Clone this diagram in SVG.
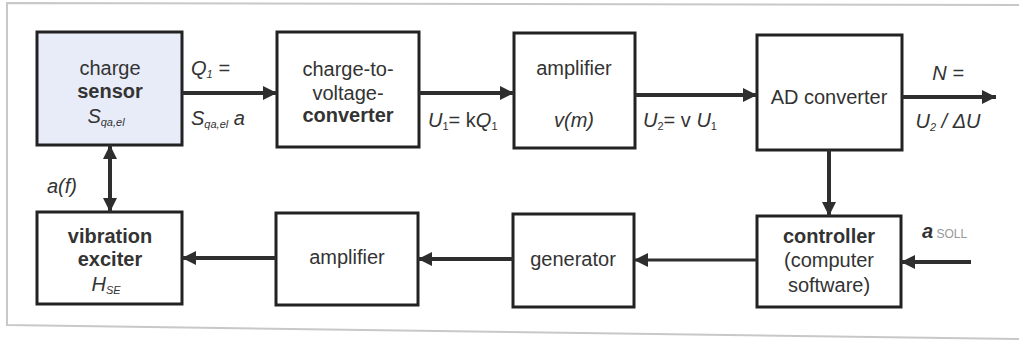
<svg xmlns="http://www.w3.org/2000/svg" width="1019" height="343" viewBox="0 0 1019 343">
<defs>
<marker id="ah" viewBox="0 0 14 14" refX="14" refY="7" markerWidth="14" markerHeight="14" markerUnits="userSpaceOnUse" orient="auto-start-reverse">
<path d="M0,0 L14,7 L0,14 z" fill="#2e2e2e"/>
</marker>
<style>
.box{fill:#fff;stroke:#222;stroke-width:3}
.t{font-family:"Liberation Sans",Arial,sans-serif;font-size:20px;fill:#333;text-anchor:middle}
.b{font-weight:bold}
.i{font-style:italic}
.l{text-anchor:start}
.sub{font-size:11px}
.c{stroke:#2e2e2e;stroke-width:4;fill:none;marker-end:url(#ah)}
.frame{stroke:#c8c8c8;stroke-width:2;fill:none}
</style>
</defs>
<rect width="1019" height="343" fill="#fff"/>
<path class="frame" d="M1019,5 L7,3 L7,325 L1019,339"/>

<g id="charge-sensor">
<rect class="box" x="37" y="32" width="145" height="113" style="fill:#e8ecf8"/>
<text class="t" x="110" y="75">charge</text>
<text class="t b" x="110" y="98">sensor</text>
<text class="t i" x="106" y="123">S<tspan class="sub" dy="3">qa,el</tspan></text>
</g>

<g id="charge-to-voltage">
<rect class="box" x="277" y="32" width="142" height="115"/>
<text class="t" x="348" y="76">charge-to-</text>
<text class="t" x="348" y="100">voltage-</text>
<text class="t b" x="348" y="122">converter</text>
</g>

<g id="amplifier1">
<rect class="box" x="514" y="33" width="121" height="115"/>
<text class="t" x="574" y="75">amplifier</text>
<text class="t i" x="574" y="127">v(m)</text>
</g>

<g id="ad-converter">
<rect class="box" x="757" y="35" width="145" height="115"/>
<text class="t" x="829" y="104">AD converter</text>
</g>

<g id="vibration-exciter">
<rect class="box" x="37" y="212" width="145" height="92"/>
<text class="t b" x="110" y="243">vibration</text>
<text class="t b" x="110" y="266">exciter</text>
<text class="t i" x="106" y="291">H<tspan class="sub" dy="3">SE</tspan></text>
</g>

<g id="amplifier2">
<rect class="box" x="276" y="213" width="142" height="92"/>
<text class="t" x="347" y="264">amplifier</text>
</g>

<g id="generator">
<rect class="box" x="513" y="214" width="121" height="93"/>
<text class="t" x="573" y="266">generator</text>
</g>

<g id="controller">
<rect class="box" x="757" y="216" width="144" height="91"/>
<text class="t b" x="829" y="243">controller</text>
<text class="t" x="829" y="267">(computer</text>
<text class="t" x="829" y="292">software)</text>
</g>

<g id="connectors">
<line class="c" x1="182" y1="93" x2="277" y2="93"/>
<line class="c" x1="419" y1="93" x2="514" y2="93"/>
<line class="c" x1="635" y1="95" x2="757" y2="95"/>
<line class="c" x1="902" y1="97" x2="996" y2="97"/>
<line class="c" x1="829" y1="150" x2="829" y2="216"/>
<line class="c" x1="971" y1="262" x2="901" y2="262"/>
<line class="c" style="stroke-width:3" x1="757" y1="260" x2="634" y2="260"/>
<line class="c" x1="513" y1="259" x2="418" y2="259"/>
<line class="c" x1="276" y1="258" x2="182" y2="258"/>
<line class="c" style="marker-start:url(#ah)" x1="110" y1="145" x2="110" y2="212"/>
</g>

<g id="labels">
<text class="t i l" x="191" y="75">Q<tspan class="sub" dy="3">1</tspan><tspan dy="-3"> =</tspan></text>
<text class="t i l" x="191" y="125">S<tspan class="sub" dy="3">qa,el</tspan><tspan dy="-3"> a</tspan></text>
<text class="t l" x="428" y="127"><tspan class="i">U</tspan><tspan class="sub" dy="3">1</tspan><tspan dy="-3">= k</tspan><tspan class="i">Q</tspan><tspan class="sub" dy="3">1</tspan></text>
<text class="t l" x="643" y="127"><tspan class="i">U</tspan><tspan class="sub" dy="3">2</tspan><tspan dy="-3">= v </tspan><tspan class="i">U</tspan><tspan class="sub" dy="3">1</tspan></text>
<text class="t i" x="948" y="80">N =</text>
<text class="t i" x="948" y="128">U<tspan class="sub" dy="3">2</tspan><tspan dy="-3"> / ΔU</tspan></text>
<text class="t i l" x="47" y="193">a(f)</text>
<text class="t l" x="922" y="238"><tspan class="b i">a</tspan><tspan style="font-size:12px;fill:#999"> SOLL</tspan></text>
</g>
</svg>
